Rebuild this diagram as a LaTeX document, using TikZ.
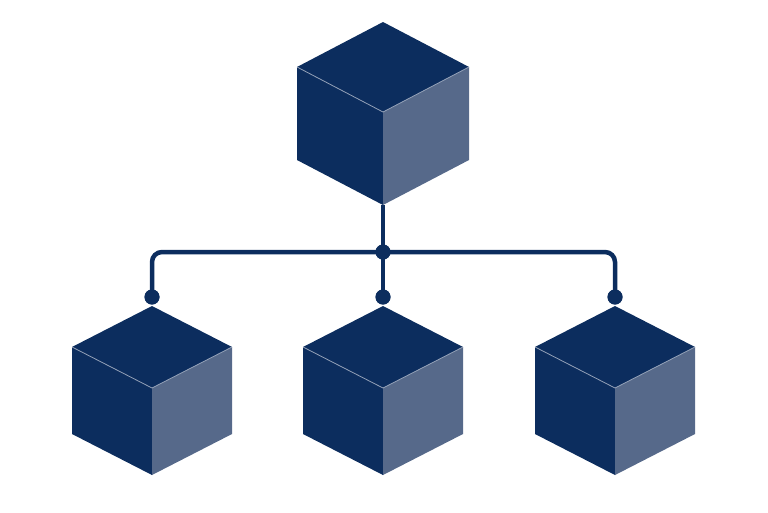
\documentclass[tikz,border=0pt]{standalone}
\usepackage{tikz}
\usetikzlibrary{calc,positioning}
\definecolor{navy}{RGB}{12,45,94}
\definecolor{slate}{RGB}{86,105,138}
\tikzset{
  face/.style={line join=round},
  edge/.style={draw=white!55!navy,line width=0.8pt},
  dot/.style={circle,fill=navy,inner sep=0pt,minimum size=15pt},
  link/.style={draw=navy,line width=4.5pt,rounded corners=10pt},
  pics/cube/.style n args={3}{code={
    \fill[face,navy] (0,0)--(-#1,-#2)--(0,-2*#2)--(#1,-#2)--cycle;
    \fill[face,navy] (0,0)--(-#1,-#2)--(-#1,#3-#2)--(0,#3)--cycle;
    \fill[face,slate] (0,0)--(#1,-#2)--(#1,#3-#2)--(0,#3)--cycle;
    \draw[edge] (-#1,-#2)--(0,0)--(#1,-#2);
    \coordinate (-bottom) at (0,#3);
  }}
}

\begin{document}
\begin{tikzpicture}[x=1pt,y=-1pt]
  \useasboundingbox (0,0) rectangle (768,512);
  % links first, cubes and dots on top
  \coordinate (root) at (383,205);
  \node[dot] (hub) at (383,252) {};
  \node[dot] (left) at (152,297) {};
  \node[dot] (mid) at (383,297) {};
  \node[dot] (right) at (615,297) {};
  \draw[link] (root) -- (hub.center);
  \draw[link] (left.center) -- (left.center|-hub.center)
    -- (right.center|-hub.center) -- (right.center);
  \draw[link] (hub.center) -- (mid.center);
  \node[dot] at (hub) {};
  \node[dot] at (left) {};
  \node[dot] at (mid) {};
  \node[dot] at (right) {};
  % cubes
  \pic (top) at (383,112) {cube={86}{45}{93}};
  \foreach \x in {152,383,615}
    \pic at (\x,388) {cube={80}{41}{87}};
\end{tikzpicture}
\end{document}
